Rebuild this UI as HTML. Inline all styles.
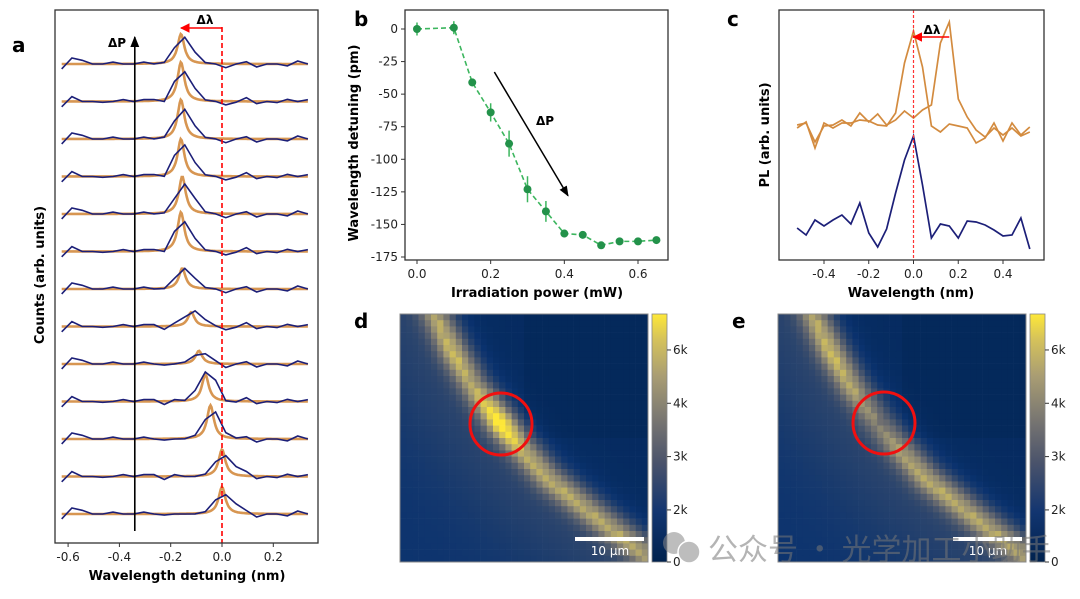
<!DOCTYPE html>
<html><head><meta charset="utf-8"><style>
html,body{margin:0;padding:0;background:#fff;}
svg text{font-family:"DejaVu Sans","Liberation Sans","Noto Sans CJK SC",sans-serif;}
</style></head><body>
<svg id="fig" width="1080" height="594" viewBox="0 0 1080 594" xmlns="http://www.w3.org/2000/svg">
<defs>
<linearGradient id="cvd" x1="0" y1="1" x2="0" y2="0">
<stop offset="0" stop-color="#00224e"/><stop offset="0.2" stop-color="#123570"/><stop offset="0.4" stop-color="#4a536b"/><stop offset="0.55" stop-color="#727171"/><stop offset="0.75" stop-color="#a99d73"/><stop offset="0.9" stop-color="#d6c35a"/><stop offset="1" stop-color="#fee838"/>
</linearGradient>
<marker id="ahB" viewBox="0 0 10 10" refX="9" refY="5" markerWidth="7" markerHeight="7" orient="auto"><path d="M0,1 L10,5 L0,9 z" fill="#000"/></marker>
<marker id="ahR" viewBox="0 0 10 10" refX="9" refY="5" markerWidth="6" markerHeight="6" orient="auto"><path d="M0,0 L10,5 L0,10 z" fill="#f00"/></marker>
</defs>
<g id="pa"></g>
<g id="pb"></g>
<g id="pc"></g>
<g id="pd"></g>
<g id="pe"></g>
<g opacity="0.55">
<circle cx="674" cy="543" r="11" fill="#888"/><circle cx="689" cy="552" r="11" fill="#888" stroke="#fff" stroke-width="1.5"/>
<text x="708" y="560" font-size="30" fill="#777" style='font-family:"Noto Sans CJK SC",sans-serif'>公众号 · 光学加工小助手</text>
</g>
</svg>
<script>
// ---------- Panel a data ----------
const aGridStart = -0.625, aGridStep = 0.04, aGridN = 25;
const aPeakCenters = [-0.16,-0.16,-0.16,-0.16,-0.155,-0.16,-0.155,-0.12,-0.09,-0.065,-0.045,0.0,0.0]; // top to bottom
const aPeakHeights = [0.8,1.05,1.05,1.0,1.0,1.05,0.55,0.38,0.35,0.72,0.9,0.72,0.72];
const aBlueHeights = [0.72,0.8,0.8,0.85,0.8,0.8,0.55,0.42,0.3,0.82,0.75,0.65,0.62];
const aNoiseA = [0.13,-0.16,-0.1,0.0,0.0,-0.05,0.0,0.0,-0.05,0.0,0.03,0.0,0.0,0.0,0.0,0.0,0.1,0.0,-0.06,0.08,0.0,0.0,0.05,-0.08,0.0];
const aNoiseB = [0.14,-0.13,0.0,0.0,0.02,0.0,-0.05,0.0,-0.05,-0.05,0.08,-0.05,0.0,0.0,0.0,0.0,0.09,0.02,-0.1,0.06,0.0,0.03,-0.06,0.0,-0.05];
const aXTicks = [-0.6,-0.4,-0.2,0.0,0.2];
// ---------- Panel b data ----------
const bPower = [0,0.1,0.15,0.2,0.25,0.3,0.35,0.4,0.45,0.5,0.55,0.6,0.65];
const bDetuning = [0,1,-41,-64,-88,-123,-140,-157,-158,-166,-163,-163,-162];
const bErr = [5,5,3,7,10,10,8,3,2,2,2,2,2];
const bXTicks = [0.0,0.2,0.4,0.6];
const bYTicks = [0,-25,-50,-75,-100,-125,-150,-175];
// ---------- Panel c data ----------
const cWave = [-0.52,-0.48,-0.44,-0.40,-0.36,-0.32,-0.28,-0.24,-0.20,-0.16,-0.12,-0.08,-0.04,0,0.04,0.08,0.12,0.16,0.20,0.24,0.28,0.32,0.36,0.40,0.44,0.48,0.52];
const cBlue = [32,25,40,34,40,45,36,57,27,13,31,67,100,124,75,22,36,34,22,39,38,35,30,24,25,42,11];
const cOrange1 = [132,138,112,137,132,137,137,140,139,135,134,147,197,229,193,134,128,136,134,132,117,122,137,119,137,125,133];
const cOrange2 = [135,137,118,134,135,140,134,147,138,146,135,140,149,142,150,155,217,238,161,143,130,123,132,125,132,124,128];
const cXTicks = [-0.4,-0.2,0.0,0.2,0.4];
// ---------- Panels d/e data (ridge of the wire, normalized image coords) ----------
const ridgeU = [0.12,0.215,0.30,0.41,0.50,0.60,0.80,0.97,1.03];
const ridgeV = [-0.05,0.145,0.29,0.44,0.55,0.66,0.82,0.95,1.0];
const ridgeAmpD = [0.55,0.72,0.62,1.0,0.68,0.64,0.62,0.62,0.55];
const ridgeAmpE = [0.55,0.72,0.62,0.42,0.58,0.64,0.62,0.62,0.55];
const cbTickLabels = ['0','2k','3k','4k','6k'];
const cbTickFrac = [0,0.21,0.425,0.64,0.855];

const NS='http://www.w3.org/2000/svg';
function mk(parent,tag,attrs,txt){const e=document.createElementNS(NS,tag);for(const k in attrs)e.setAttribute(k,attrs[k]);if(txt!==undefined)e.textContent=txt;parent.appendChild(e);return e;}
function lin(d0,d1,r0,r1){return v=>r0+(v-d0)*(r1-r0)/(d1-d0);}

// ===== Panel a =====
(function(){
const g=document.getElementById('pa');
const X=lin(0,0.2,222,273.3);
const nT=aPeakCenters.length;
const Y=(idx,v)=>514-((nT-1-idx)+v)*37.5;
let t=mk(g,'text',{x:12,y:52,'font-size':20,'font-weight':'bold'},'a');

for(let i=0;i<nT;i++){
  const c=aPeakCenters[i],h=aPeakHeights[i],gm=0.016;
  let d='';
  for(let k=0;k<=240;k++){const x=-0.625+k*0.96/240;const v=h/(1+((x-c)/gm)**2);d+=(k?'L':'M')+X(x).toFixed(1)+','+Y(i,v).toFixed(1);}
  const o=mk(g,'path',{d:d,fill:'none',stroke:'#d38b3f','stroke-width':2.6,opacity:0.9});
  
  const nz=i%2?aNoiseB:aNoiseA;
  let db='';
  for(let k=0;k<aGridN;k++){const x=aGridStart+k*aGridStep;const v=aBlueHeights[i]*Math.exp(-((x-c-0.01)**2)/(2*0.035*0.035))-nz[k];db+=(k?'L':'M')+X(x).toFixed(1)+','+Y(i,v).toFixed(1);}
  const b=mk(g,'path',{d:db,fill:'none',stroke:'#1c1f78','stroke-width':1.6});
  
}
let l=mk(g,'line',{x1:X(0),y1:27,x2:X(0),y2:543,stroke:'#f00','stroke-width':1.6,'stroke-dasharray':'5,3'});

l=mk(g,'line',{x1:X(0),y1:28,x2:X(-0.16),y2:28,stroke:'#f00','stroke-width':1.6,'marker-end':'url(#ahR)'});

t=mk(g,'text',{x:205,y:24,'font-size':12,'font-weight':'bold','text-anchor':'middle'},'Δλ');

l=mk(g,'line',{x1:X(-0.34),y1:531,x2:X(-0.34),y2:37,stroke:'#000','stroke-width':1.6,'marker-end':'url(#ahB)'});

t=mk(g,'text',{x:117,y:47,'font-size':12,'font-weight':'bold','text-anchor':'middle'},'ΔP');

const r=mk(g,'rect',{x:55,y:10,width:263,height:533,fill:'none',stroke:'#333','stroke-width':1.3});

aXTicks.forEach(v=>{mk(g,'line',{x1:X(v),y1:543,x2:X(v),y2:547,stroke:'#333'});
 const tt=mk(g,'text',{x:X(v),y:561,'font-size':12,'text-anchor':'middle',fill:'#222'},v.toFixed(1));
 });
t=mk(g,'text',{x:187,y:580,'font-size':13,'font-weight':'bold','text-anchor':'middle'},'Wavelength detuning (nm)');

t=mk(g,'text',{x:0,y:0,'font-size':13,'font-weight':'bold','text-anchor':'middle',transform:'translate(44,275) rotate(-90)'},'Counts (arb. units)');

})();

// ===== Panel b =====
(function(){
const g=document.getElementById('pb');
const X=lin(0,0.6,417,638),Y=lin(0,-175,29,257);
let t=mk(g,'text',{x:354,y:26,'font-size':20,'font-weight':'bold'},'b');

let d='';bPower.forEach((p,i)=>{d+=(i?'L':'M')+X(p)+','+Y(bDetuning[i]);});
const ln=mk(g,'path',{d:d,fill:'none',stroke:'#3cb65e','stroke-width':1.6,'stroke-dasharray':'5,3'});

bPower.forEach((p,i)=>{
 const e=mk(g,'line',{x1:X(p),y1:Y(bDetuning[i]-bErr[i]),x2:X(p),y2:Y(bDetuning[i]+bErr[i]),stroke:'#3cb65e','stroke-width':1.5});
 
 const c=mk(g,'circle',{cx:X(p),cy:Y(bDetuning[i]),r:4,fill:'#23924a'});
 
});
let l=mk(g,'line',{x1:X(0.21),y1:Y(-33),x2:X(0.41),y2:Y(-128),stroke:'#000','stroke-width':1.5,'marker-end':'url(#ahB)'});

t=mk(g,'text',{x:545,y:125,'font-size':12,'font-weight':'bold','text-anchor':'middle'},'ΔP');

const r=mk(g,'rect',{x:405,y:10,width:263,height:250,fill:'none',stroke:'#333','stroke-width':1.3});

bXTicks.forEach(v=>{mk(g,'line',{x1:X(v),y1:260,x2:X(v),y2:264,stroke:'#333'});
 const tt=mk(g,'text',{x:X(v),y:278,'font-size':12,'text-anchor':'middle',fill:'#222'},v.toFixed(1));
 });
bYTicks.forEach(v=>{mk(g,'line',{x1:401,y1:Y(v),x2:405,y2:Y(v),stroke:'#333'});
 const tt=mk(g,'text',{x:398,y:Y(v)+4,'font-size':12,'text-anchor':'end',fill:'#222'},String(v));
 });
t=mk(g,'text',{x:537,y:297,'font-size':13,'font-weight':'bold','text-anchor':'middle'},'Irradiation power (mW)');

t=mk(g,'text',{x:0,y:0,'font-size':13,'font-weight':'bold','text-anchor':'middle',transform:'translate(358,143) rotate(-90)'},'Wavelength detuning (pm)');

})();

// ===== Panel c =====
(function(){
const g=document.getElementById('pc');
const X=lin(-0.4,0.4,824,1003),Y=lin(0,250,260,10);
let t=mk(g,'text',{x:727,y:26,'font-size':20,'font-weight':'bold'},'c');

[[cOrange1,'#d38b3f','orange-spectrum-1'],[cOrange2,'#d38b3f','orange-spectrum-2'],[cBlue,'#1c1f78','blue-spectrum']].forEach(s=>{
 let d='';cWave.forEach((w,i)=>{d+=(i?'L':'M')+X(w).toFixed(1)+','+Y(s[0][i]).toFixed(1);});
 const p=mk(g,'path',{d:d,fill:'none',stroke:s[1],'stroke-width':1.7});
 
});
let l=mk(g,'line',{x1:X(0),y1:10,x2:X(0),y2:260,stroke:'#f33','stroke-width':1.2,'stroke-dasharray':'3,2'});

l=mk(g,'line',{x1:X(0.16),y1:37,x2:X(0),y2:37,stroke:'#f00','stroke-width':1.6,'marker-end':'url(#ahR)'});

t=mk(g,'text',{x:932,y:34,'font-size':12,'font-weight':'bold','text-anchor':'middle'},'Δλ');

const r=mk(g,'rect',{x:779,y:10,width:265,height:250,fill:'none',stroke:'#333','stroke-width':1.3});

cXTicks.forEach(v=>{mk(g,'line',{x1:X(v),y1:260,x2:X(v),y2:264,stroke:'#333'});
 const tt=mk(g,'text',{x:X(v),y:278,'font-size':12,'text-anchor':'middle',fill:'#222'},v.toFixed(1));
 });
t=mk(g,'text',{x:911,y:297,'font-size':13,'font-weight':'bold','text-anchor':'middle'},'Wavelength (nm)');

t=mk(g,'text',{x:0,y:0,'font-size':13,'font-weight':'bold','text-anchor':'middle',transform:'translate(769,135) rotate(-90)'},'PL (arb. units)');

})();

// ===== Panels d, e =====
const cmapStops=[[0,[0,34,78]],[0.12,[10,50,110]],[0.3,[60,78,108]],[0.5,[110,110,112]],[0.7,[165,155,115]],[0.85,[210,192,90]],[1,[254,232,56]]];
function cmap(v){v=Math.max(0,Math.min(1,v));for(let i=1;i<cmapStops.length;i++){if(v<=cmapStops[i][0]){const a=cmapStops[i-1],b=cmapStops[i];const f=(v-a[0])/(b[0]-a[0]);return 'rgb('+a[1].map((c,k)=>Math.round(c+(b[1][k]-c)*f)).join(',')+')';}}return 'rgb(254,232,56)';}
function ridgeInfo(u,v,amps){let best=1e9,amp=0,side=0;
 for(let i=0;i<ridgeU.length-1;i++){const ax=ridgeU[i],ay=ridgeV[i],bx=ridgeU[i+1],by=ridgeV[i+1];const dx=bx-ax,dy=by-ay;let t=((u-ax)*dx+(v-ay)*dy)/(dx*dx+dy*dy);t=Math.max(0,Math.min(1,t));const px=ax+t*dx,py=ay+t*dy;const d=Math.hypot(u-px,v-py);
  if(d<best){best=d;amp=amps[i]+(amps[i+1]-amps[i])*t;side=((u-ax)*dy-(v-ay)*dx)<0?1:0;}}
 return [best,amp,side];}
function drawMap(id,x0,cbx,amps,label,circ){
 const g=document.getElementById(id);const y0=314,W=248,N=40,cs=W/N;
 let t=mk(g,'text',{x:x0-46,y:328,'font-size':20,'font-weight':'bold'},label);
 
 const hm=mk(g,'g',{});
 for(let r=0;r<N;r++)for(let c=0;c<N;c++){const u=(c+0.5)/N,v=(r+0.5)/N;const [d,a,side]=ridgeInfo(u,v,amps);
  let val=0.07+a*0.85*Math.exp(-d*d/(2*0.042*0.042))+(side?0.06+0.12*Math.exp(-d*d/(2*0.22*0.22)):0.08*Math.exp(-d*d/(2*0.08*0.08)));
  if(side===0&&u>0.5&&v<0.5)val-=0.02;
  const rc=mk(hm,'rect',{x:(x0+c*cs).toFixed(2),y:(y0+r*cs).toFixed(2),width:(cs+0.3).toFixed(2),height:(cs+0.3).toFixed(2),fill:cmap(val)});
  }
 const fr=mk(g,'rect',{x:x0,y:y0,width:W,height:W,fill:'none',stroke:'#888','stroke-width':1});
 
 const ci=mk(g,'circle',{cx:circ[0],cy:circ[1],r:31,fill:'none',stroke:'#f01010','stroke-width':3});
 
 const sb=mk(g,'rect',{x:x0+175,y:537,width:69,height:4,fill:'#fff'});
 
 t=mk(g,'text',{x:x0+210,y:555,'font-size':12,'text-anchor':'middle',fill:'#fff'},'10 μm');
 
 const cb=mk(g,'rect',{x:cbx,y:y0,width:15,height:W,fill:'url(#cvd)',stroke:'#888','stroke-width':0.8});
 
 cbTickLabels.forEach((lb,i)=>{const yy=y0+W-cbTickFrac[i]*W;mk(g,'line',{x1:cbx+15,y1:yy,x2:cbx+19,y2:yy,stroke:'#333'});
  const tt=mk(g,'text',{x:cbx+21,y:yy+4,'font-size':12,fill:'#222'},lb);
  });
}
drawMap('pd',400,652,ridgeAmpD,'d',[501,424]);
drawMap('pe',778,1030,ridgeAmpE,'e',[884,423]);
</script>
</body></html>
